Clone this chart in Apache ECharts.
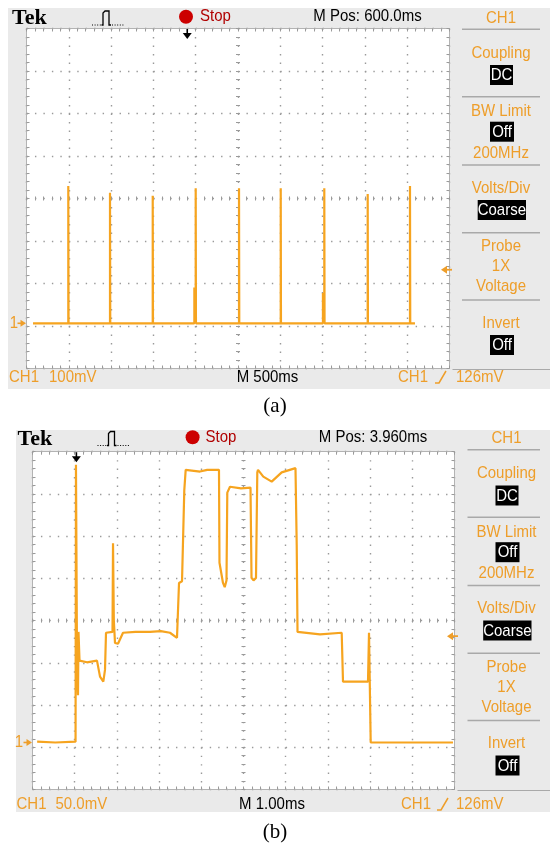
<!DOCTYPE html>
<html>
<head>
<meta charset="utf-8">
<script src="https://cdn.jsdelivr.net/npm/echarts@6/dist/echarts.min.js"></script>
<style>
  html, body { margin: 0; padding: 0; background: #fff; }
  #chart { width: 550px; height: 846px; }
</style>
</head>
<body>
<div id="chart"></div>
<script>
// ---- panel (a): 100mV/div, 500ms/div, time in ms, voltage in mV above ground
const spikeTimesA = [-1406, -913, -408, 100, 612, 1105, 1620, 2133, 2633];
const spikePeaksA = [323, 307, 300, 318, 318, 318, 318, 304, 323];
const spikeShoulderA = [0, 0, 0, 84, 0, 0, 71, 0, 0];
const traceSpanA = [-1823, 2692];

// ---- panel (b): 50mV/div, 1ms/div, time in ms, voltage in mV above ground
const timeB = [-0.93, -0.5, -0.02, -0.01, 0.015, 0.038, 0.05, 0.074, 0.25, 0.488, 0.56, 0.638, 0.678,
  0.702, 0.856, 0.868, 0.887, 0.915, 0.986, 1.105, 1.4, 1.744, 2.0, 2.218, 2.384, 2.415, 2.432, 2.503,
  2.557, 2.59, 2.929, 3.1, 3.379, 3.391, 3.474, 3.515, 3.557, 3.576, 3.64, 3.9, 4.126, 4.15, 4.197,
  4.256, 4.287, 4.304, 4.429, 4.628, 4.865, 5.192, 5.221, 5.24, 5.773, 6.287, 6.318, 6.91, 6.934,
  6.974, 8.924];
const voltB = [1, 0, 1, 329, 98, 56, 131, 97, 95, 97, 78, 72, 86,
  130, 131, 236, 145, 118, 117, 130, 131, 131, 132, 130, 124, 124, 189, 191,
  299, 323, 321, 323, 323, 213, 189, 184, 192, 296, 303, 301, 302, 195, 192,
  195, 320, 323, 315, 309, 320, 325, 234, 131, 128, 130, 72, 72, 130,
  0, 0];

const triggerLevel = 126; // mV

const BG = '#EAEAEA', ORANGE = '#F6A41F', MENU = '#EE9E2A', GRID = '#9a9a9a', EDGE = '#b3b3b3';
const SANS = "'Liberation Sans', Arial, sans-serif";
const SERIF = "'Liberation Serif', 'Times New Roman', serif";

const panels = [
  { rect: [26.5, 28.5, 423, 340], xr: [-1900, 3100], yr: [-106.4, 693.6], bg: [8, 8, 542, 381],
    dx: 0, dy: 0, mpos: 'M Pos: 600.0ms', volts: '100mV', tb: 'M 500ms', by: 377,
    bl: [9, 49, 267.5, 398, 435, 456], cap: '(a)', capY: 406, gx: 14, trigX: 441 },
  { rect: [32.5, 451.7, 422, 337.8], xr: [-1.04, 8.96], yr: [-55.7, 344.5], bg: [16, 430, 534, 382],
    dx: 5.5, dy: 420.5, mpos: 'M Pos: 3.960ms', volts: '50.0mV', tb: 'M 1.00ms', by: 804,
    bl: [16.5, 55.5, 272, 401, 437, 456], cap: '(b)', capY: 832, gx: 19, trigX: 447 }
];

// build trace (a) from the spike list
const traceA = [[traceSpanA[0], 0]];
spikeTimesA.forEach(function (t, i) {
  if (spikeShoulderA[i]) {
    traceA.push([t - 16, 0], [t - 16, spikeShoulderA[i]], [t, spikeShoulderA[i]]);
  }
  traceA.push([t, 0], [t, spikePeaksA[i]], [t + 3, 0]);
});
traceA.push([traceSpanA[1], 0]);
const traceB = timeB.map(function (t, i) { return [t, voltB[i]]; });

function gridAxis(dim, gi, pos, off, o) {
  const n = dim === 'x' ? 10 : 8;
  return {
    gridIndex: gi, type: 'value', min: 0, max: n, interval: 1, position: pos, offset: off,
    axisLabel: { show: false },
    axisLine: { show: o.line, onZero: false, lineStyle: { color: EDGE, width: 1 } },
    axisTick: { show: true, inside: true, length: o.tick, lineStyle: { color: GRID, width: 1 } },
    minorTick: { show: true, splitNumber: 5, length: o.tick, lineStyle: { color: GRID, width: 1 } },
    splitLine: { show: !!o.split, lineStyle: { color: GRID, width: 1.4, type: o.split || 'solid' } }
  };
}

const grids = [], xAxes = [], yAxes = [], series = [];
panels.forEach(function (p, gi) {
  const w = p.rect[2], h = p.rect[3];
  grids.push({ left: p.rect[0], top: p.rect[1], width: w, height: h, show: true,
    backgroundColor: '#ffffff', borderWidth: 0, containLabel: false, outerBoundsMode: 'none' });
  xAxes.push({ gridIndex: gi, type: 'value', min: p.xr[0], max: p.xr[1], show: false,
    axisLine: { onZero: false } });
  xAxes.push(gridAxis('x', gi, 'bottom', 0, { line: true, tick: 3, split: [1.4, h / 40 - 1.4] }));
  xAxes.push(gridAxis('x', gi, 'top', 0, { line: true, tick: 3 }));
  xAxes.push(gridAxis('x', gi, 'bottom', -(h / 2 - 2), { line: false, tick: 4 }));
  yAxes.push({ gridIndex: gi, type: 'value', min: p.yr[0], max: p.yr[1], show: false,
    axisLine: { onZero: false } });
  yAxes.push(gridAxis('y', gi, 'left', 0, { line: true, tick: 3, split: [1.4, w / 50 - 1.4] }));
  yAxes.push(gridAxis('y', gi, 'right', 0, { line: true, tick: 3 }));
  yAxes.push(gridAxis('y', gi, 'left', -(w / 2 - 2), { line: false, tick: 4 }));
  series.push({
    type: 'line', xAxisIndex: gi * 4, yAxisIndex: gi * 4, data: gi === 0 ? traceA : traceB,
    showSymbol: false, symbol: 'none', silent: true, clip: true,
    lineStyle: { color: ORANGE, width: 2.2 }, z: 5
  });
});

const chart = echarts.init(document.getElementById('chart'), null, { renderer: 'canvas' });
chart.setOption({
  animation: false,
  backgroundColor: '#ffffff',
  grid: grids, xAxis: xAxes, yAxis: yAxes, series: series
});

function txt(x, y, s, color, font, align, extra) {
  return Object.assign({
    type: 'text', x: x, y: y, silent: true, z: 20,
    style: { text: s, fill: color, font: font, align: align || 'center', textAlign: align || 'center',
      verticalAlign: 'middle', textVerticalAlign: 'middle' }
  }, extra || {});
}
function tek(x, y, s, color, align) {
  return txt(x, y, s, color, '15px ' + SANS, align, { scaleY: 1.13 });
}
function rect(x, y, w, h, fill, z) {
  return { type: 'rect', silent: true, z: z === undefined ? 20 : z, shape: { x: x, y: y, width: w, height: h }, style: { fill: fill } };
}
function line(x1, y1, x2, y2, color, lw, dash) {
  return { type: 'line', silent: true, z: 20, shape: { x1: x1, y1: y1, x2: x2, y2: y2 },
    style: { stroke: color, lineWidth: lw, lineDash: dash || null } };
}
function poly(pts, color) {
  return { type: 'polygon', silent: true, z: 21, shape: { points: pts }, style: { fill: color } };
}

const els = [];
panels.forEach(function (p, gi) {
  const dx = p.dx, dy = p.dy;
  const px0 = p.rect[0], px1 = p.rect[0] + p.rect[2], py0 = p.rect[1], py1 = p.rect[1] + p.rect[3];
  els.push(rect(p.bg[0], p.bg[1], p.bg[2], p.bg[3], BG, -10));
  // top bar
  els.push(txt(12 + dx, 18.5 + dy, 'Tek', '#000', 'bold 22px ' + SERIF, 'left'));
  const ix = 92 + dx, iy = dy;
  els.push(line(ix, 25 + iy, ix + 9, 25 + iy, '#000', 1, [1, 1.6]));
  els.push({ type: 'polyline', silent: true, z: 20,
    shape: { points: [[ix + 9.5, 25 + iy], [ix + 11, 25 + iy], [ix + 11, 13 + iy], [ix + 13, 11 + iy], [ix + 17, 11 + iy], [ix + 17, 25 + iy], [ix + 19, 25 + iy]] },
    style: { stroke: '#000', lineWidth: 1.3, fill: null } });
  els.push(line(ix + 20, 25 + iy, ix + 33, 25 + iy, '#000', 1, [1, 1.6]));
  els.push({ type: 'circle', silent: true, z: 20, shape: { cx: 186 + dx * 1.2, cy: 16.7 + dy, r: 7 }, style: { fill: '#CC0000' } });
  els.push(tek(200 + dx, 16.5 + dy, 'Stop', '#B00000', 'left'));
  els.push(tek(367.5 + dx, 16.5 + dy, p.mpos, '#000'));
  els.push(tek(501 + dx, 18 + dy, 'CH1', MENU));
  // side menu
  [29.3, 96.7, 165, 232.7, 300].forEach(function (y) {
    els.push(line(462 + dx, y + dy, 540, y + dy, '#a9a9a9', 1.5));
  });
  [['Coupling', 53.3], ['BW Limit', 111.7], ['200MHz', 153.3], ['Volts/Div', 188.3], ['Probe', 246.7],
   ['1X', 266.7], ['Voltage', 286.7], ['Invert', 323.3]].forEach(function (m) {
    els.push(tek(501 + dx, m[1] + dy, m[0], MENU));
  });
  [['DC', 490, 65, 23], ['Off', 490, 121.7, 24], ['Coarse', 477.7, 200, 48.3], ['Off', 490, 335, 24]].forEach(function (b) {
    els.push(rect(b[1] + dx, b[2] + dy, b[3], 20, '#000'));
    els.push(tek(b[1] + dx + b[3] / 2, b[2] + dy + 10.5, b[0], '#fff'));
  });
  els.push(line(px1 + 3, py1 + 1, 550, py1 + 1, '#a9a9a9', 1.2));
  // bottom status line
  els.push(tek(p.bl[0], p.by, 'CH1', MENU, 'left'));
  els.push(tek(p.bl[1], p.by, p.volts, MENU, 'left'));
  els.push(tek(p.bl[2], p.by, p.tb, '#000'));
  els.push(tek(p.bl[3], p.by, 'CH1', MENU, 'left'));
  els.push({ type: 'polyline', silent: true, z: 20,
    shape: { points: [[p.bl[4], p.by + 6], [p.bl[4] + 4, p.by + 6], [p.bl[4] + 11, p.by - 6]] },
    style: { stroke: MENU, lineWidth: 1.5, fill: null } });
  els.push(tek(p.bl[5], p.by, '126mV', MENU, 'left'));
  // caption
  els.push(txt(275, p.capY, p.cap, '#000', '21px ' + SERIF));

  // markers placed through the data scales
  const g = chart.convertToPixel({ seriesIndex: gi }, [p.xr[0], 0]);
  const tl = chart.convertToPixel({ seriesIndex: gi }, [0, triggerLevel]);
  // ground marker "1 ->"
  els.push(tek(p.gx, g[1], '1', MENU));
  els.push(line(px0 - 9, g[1], px0 - 4, g[1], MENU, 1.6));
  els.push(poly([[px0 - 6, g[1] - 3.5], [px0 - 0.5, g[1]], [px0 - 6, g[1] + 3.5]], MENU));
  // trigger level arrow on right
  const tx = p.trigX;
  els.push(poly([[tx, tl[1]], [tx + 6, tl[1] - 4], [tx + 6, tl[1] + 4]], MENU));
  els.push(line(tx + 5, tl[1], tx + 11, tl[1], MENU, 1.8));
  // trigger position arrow at top
  els.push(line(tl[0], py0 + 0.5, tl[0], py0 + 6, '#000', 1.6));
  els.push(poly([[tl[0] - 4.5, py0 + 4.5], [tl[0] + 4.5, py0 + 4.5], [tl[0], py0 + 10.5]], '#000'));
});

chart.setOption({ graphic: { elements: els } });
</script>
</body>
</html>
